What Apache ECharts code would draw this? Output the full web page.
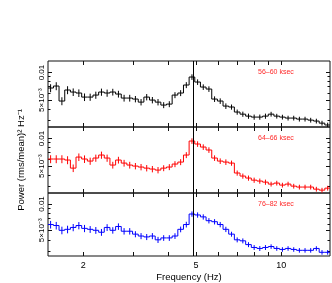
<!DOCTYPE html>
<html><head><meta charset="utf-8">
<script src="https://cdn.jsdelivr.net/npm/echarts@6/dist/echarts.min.js"></script>
<style>html,body{margin:0;padding:0;background:#fff}#c{width:332px;height:283px}</style>
</head><body><div id="c"></div>
<script>
const binEdges = [1.500,1.571,1.644,1.722,1.803,1.887,1.976,2.069,2.166,2.268,2.374,2.486,2.603,2.725,2.853,2.987,3.128,3.275,3.429,3.590,3.759,3.935,4.120,4.314,4.517,4.729,4.951,5.184,5.428,5.683,5.950,6.229,6.522,6.829,7.150,7.486,7.838,8.206,8.592,8.995,9.418,9.861,10.324,10.810,11.318,11.850,12.407,12.990,13.600,14.239,14.909];
const power56 = [0.00677,0.00712,0.00488,0.00644,0.00612,0.00597,0.00539,0.00539,0.00567,0.00612,0.00597,0.00612,0.00582,0.00526,0.00526,0.00513,0.00475,0.00539,0.00500,0.00475,0.00441,0.00452,0.00567,0.00597,0.00730,0.00893,0.00787,0.00694,0.00660,0.00513,0.00488,0.00430,0.00420,0.00370,0.00351,0.00334,0.00326,0.00326,0.00334,0.00351,0.00334,0.00326,0.00318,0.00318,0.00310,0.00310,0.00302,0.00295,0.00280,0.00267];
const power64 = [0.00597,0.00597,0.00597,0.00582,0.00475,0.00627,0.00597,0.00567,0.00612,0.00660,0.00612,0.00513,0.00582,0.00539,0.00513,0.00500,0.00488,0.00475,0.00464,0.00452,0.00475,0.00488,0.00526,0.00553,0.00660,0.00939,0.00871,0.00807,0.00749,0.00612,0.00567,0.00553,0.00539,0.00420,0.00389,0.00370,0.00351,0.00343,0.00334,0.00318,0.00326,0.00310,0.00318,0.00302,0.00295,0.00295,0.00295,0.00280,0.00273,0.00287];
const power76 = [0.00582,0.00567,0.00500,0.00513,0.00539,0.00567,0.00526,0.00513,0.00500,0.00475,0.00539,0.00500,0.00553,0.00488,0.00488,0.00452,0.00430,0.00420,0.00430,0.00389,0.00409,0.00409,0.00430,0.00513,0.00582,0.00768,0.00749,0.00712,0.00644,0.00627,0.00582,0.00513,0.00452,0.00389,0.00379,0.00343,0.00318,0.00310,0.00318,0.00326,0.00310,0.00302,0.00310,0.00302,0.00295,0.00295,0.00295,0.00310,0.00280,0.00280];
const errFrac = [0.10,0.10,0.10,0.10,0.095,0.095,0.095,0.09,0.09,0.09,0.09,0.085,0.085,0.085,0.085,0.08,0.08,0.08,0.08,0.08,0.075,0.075,0.075,0.075,0.075,0.07,0.07,0.07,0.07,0.07,0.07,0.07,0.065,0.065,0.065,0.065,0.065,0.065,0.065,0.06,0.06,0.06,0.06,0.06,0.06,0.06,0.06,0.06,0.06,0.06];
const panelLabels = ['56–60 ksec','64–66 ksec','76–82 ksec'];
const panelColors = ['#000000','#ff0000','#0000ff'];
const xTickValues = [2,3,4,5,6,7,8,9,10];
const xLabelValues = [2,5,10];
const yMajor = [0.005,0.01];
const yMinor = [0.003,0.004,0.006,0.007,0.008,0.009];
const qpoFreq = 4.9;

const X_MIN = 1.503, X_MAX = 14.85, Y_MIN = 0.00254, Y_MAX = 0.01336;
const panels = [power56, power64, power76];
const gridRects = [{top:61,height:66},{top:127,height:66},{top:193,height:65}];
const FONT = 'Liberation Sans, Arial, Helvetica, sans-serif';

const grid = [], xAxis = [], yAxis = [], series = [], graphic = [];
gridRects.forEach((r, g) => {
  grid.push({left:48, right:2, top:r.top, height:r.height, show:true, borderColor:'#111', borderWidth:1, backgroundColor:'transparent'});
  grid.push({left:48, right:2, top:r.top, height:r.height, show:false});
});
const tickStyle = {color:'#111', width:1};
for (let g = 0; g < 3; g++) {
  const gi = g*2, go = g*2+1;
  ['bottom','top'].forEach(pos => {
    xAxis.push({
      gridIndex: gi, type:'log', min:X_MIN, max:X_MAX, position:pos,
      axisLine:{show:false}, splitLine:{show:false},
      axisTick:{show:true, inside:true, length:4, customValues:xTickValues, lineStyle:tickStyle},
      axisLabel:{show: pos==='bottom' && g===2, customValues:xLabelValues, fontSize:9, color:'#000', margin:5, fontFamily:FONT,
                 formatter: v => String(Math.round(v))},
      name: (pos==='bottom' && g===2) ? 'Frequency (Hz)' : '', nameLocation:'middle', nameGap:16,
      nameTextStyle:{fontSize:9.5, color:'#000', fontFamily:FONT}
    });
  });
  xAxis.push({gridIndex: go, type:'log', min:X_MIN, max:X_MAX, show:false});
  ['left','right'].forEach(pos => {
    yAxis.push({
      gridIndex: gi, type:'log', min:Y_MIN, max:Y_MAX, position:pos,
      axisLine:{show:false}, splitLine:{show:false},
      axisTick:{show:true, inside:true, length:4, customValues:yMajor, lineStyle:tickStyle},
      axisLabel:{show: pos==='left', customValues:yMajor, rotate:90, fontSize:8, color:'#000', margin:2, fontFamily:FONT,
                 formatter: v => (Math.abs(v-0.01) < 1e-6 ? '0.01' : '5×10⁻³')},
      name: (pos==='left' && g===1) ? 'Power (rms/mean)² Hz⁻¹' : '', nameLocation:'middle', nameRotate:90, nameGap:22,
      nameTextStyle:{fontSize:9.5, color:'#000', fontFamily:FONT}
    });
    yAxis.push({
      gridIndex: go, type:'log', min:Y_MIN, max:Y_MAX, position:pos,
      axisLine:{show:false}, splitLine:{show:false},
      axisTick:{show:true, inside:true, length:2.5, customValues:yMinor, lineStyle:tickStyle},
      axisLabel:{show:false}
    });
  });
}
for (let g = 0; g < 3; g++) {
  const vals = panels[g];
  const color = panelColors[g];
  const data = vals.map((v, i) => [binEdges[i], binEdges[i+1], Math.sqrt(binEdges[i]*binEdges[i+1]), v, errFrac[i], i > 0 ? vals[i-1] : v]);
  series.push({
    type:'custom', xAxisIndex:3*g, yAxisIndex:4*g, animation:false, silent:true, clip:true,
    data,
    renderItem: (params, api) => {
      const lo = api.value(0), hi = api.value(1), mid = api.value(2), v = api.value(3), e = api.value(4), prev = api.value(5);
      const a = api.coord([lo, v]), b = api.coord([hi, v]);
      const c1 = api.coord([mid, v*(1+e)]), c2 = api.coord([mid, v*(1-e)]);
      const p = api.coord([lo, prev]);
      const st = {stroke: color, lineWidth: 1};
      return {type:'group', children:[
        {type:'line', shape:{x1:a[0], y1:a[1], x2:b[0], y2:b[1]}, style:st},
        {type:'line', shape:{x1:c1[0], y1:c1[1], x2:c2[0], y2:c2[1]}, style:st},
        {type:'line', shape:{x1:p[0], y1:p[1], x2:a[0], y2:a[1]}, style:st}
      ]};
    },
    markLine:{symbol:'none', silent:true, animation:false, label:{show:false},
      lineStyle:{color:'#000', width:1, type:'solid'}, data:[{xAxis:qpoFreq}]}
  });
  graphic.push({type:'text', left:258, top:gridRects[g].top + 7.5, silent:true,
    style:{text:panelLabels[g], fill:'#ff2a2a', fontSize:7, fontFamily:FONT}});
}
const chart = echarts.init(document.getElementById('c'), null, {renderer:'canvas'});
chart.setOption({animation:false, grid, xAxis, yAxis, series, graphic});
</script></body></html>
